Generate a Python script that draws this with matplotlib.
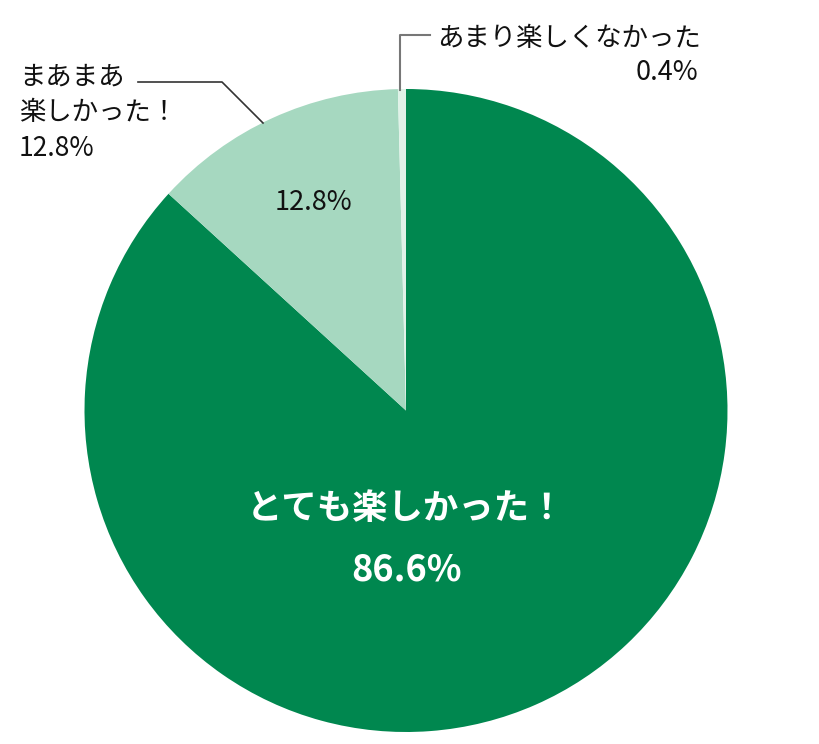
import matplotlib
matplotlib.use("Agg")
import matplotlib.pyplot as plt

plt.rcParams['font.family'] = ['Noto Sans CJK JP', 'DejaVu Sans']

# Data
labels = ['とても楽しかった！', 'まあまあ\n楽しかった！', 'あまり楽しくなかった']
values = [86.6, 12.8, 0.4]
colors = ['#00874f', '#a6d8c0', '#e0f2e8']

W, H = 820, 744
fig = plt.figure(figsize=(W / 100, H / 100), dpi=100)
ax = fig.add_axes([0, 0, 1, 1])

# pie in pixel-like coordinates (y measured from bottom)
cx, cy, r = 406, H - 410.5, 321.5
ax.pie(values, colors=colors, startangle=90, counterclock=False,
       center=(cx, cy), radius=r, frame=True)

ax.set_xlim(0, W)
ax.set_ylim(0, H)
ax.set_aspect('equal')
ax.axis('off')

def py(y):
    return H - y

# big slice labels
ax.text(406, py(508), labels[0], color='white', fontsize=25.5, fontweight='bold',
        ha='center', va='center')
ax.text(407, py(570), f'{values[0]}%', color='white', fontsize=26, fontweight='bold',
        ha='center', va='center')

# medium slice inner label
ax.text(313, py(202), f'{values[1]}%', color='#111111', fontsize=19.5,
        ha='center', va='center')

# medium slice outside label + leader line
ax.text(19, py(113), f'{labels[1]}\n{values[1]}%', color='#111111', fontsize=19,
        ha='left', va='center', linespacing=1.4)
ax.plot([138, 222, 263], [py(82), py(82), py(123)], color='#333333', lw=1.2)

# small slice outside label + leader line
ax.text(701, py(38), labels[2], color='#111111', fontsize=19,
        ha='right', va='center')
ax.text(698, py(72), f'{values[2]}%', color='#111111', fontsize=19.5,
        ha='right', va='center')
ax.plot([400, 400, 430], [py(90), py(35), py(35)], color='#777777', lw=1.5)

fig.savefig('out.png', dpi=100)
